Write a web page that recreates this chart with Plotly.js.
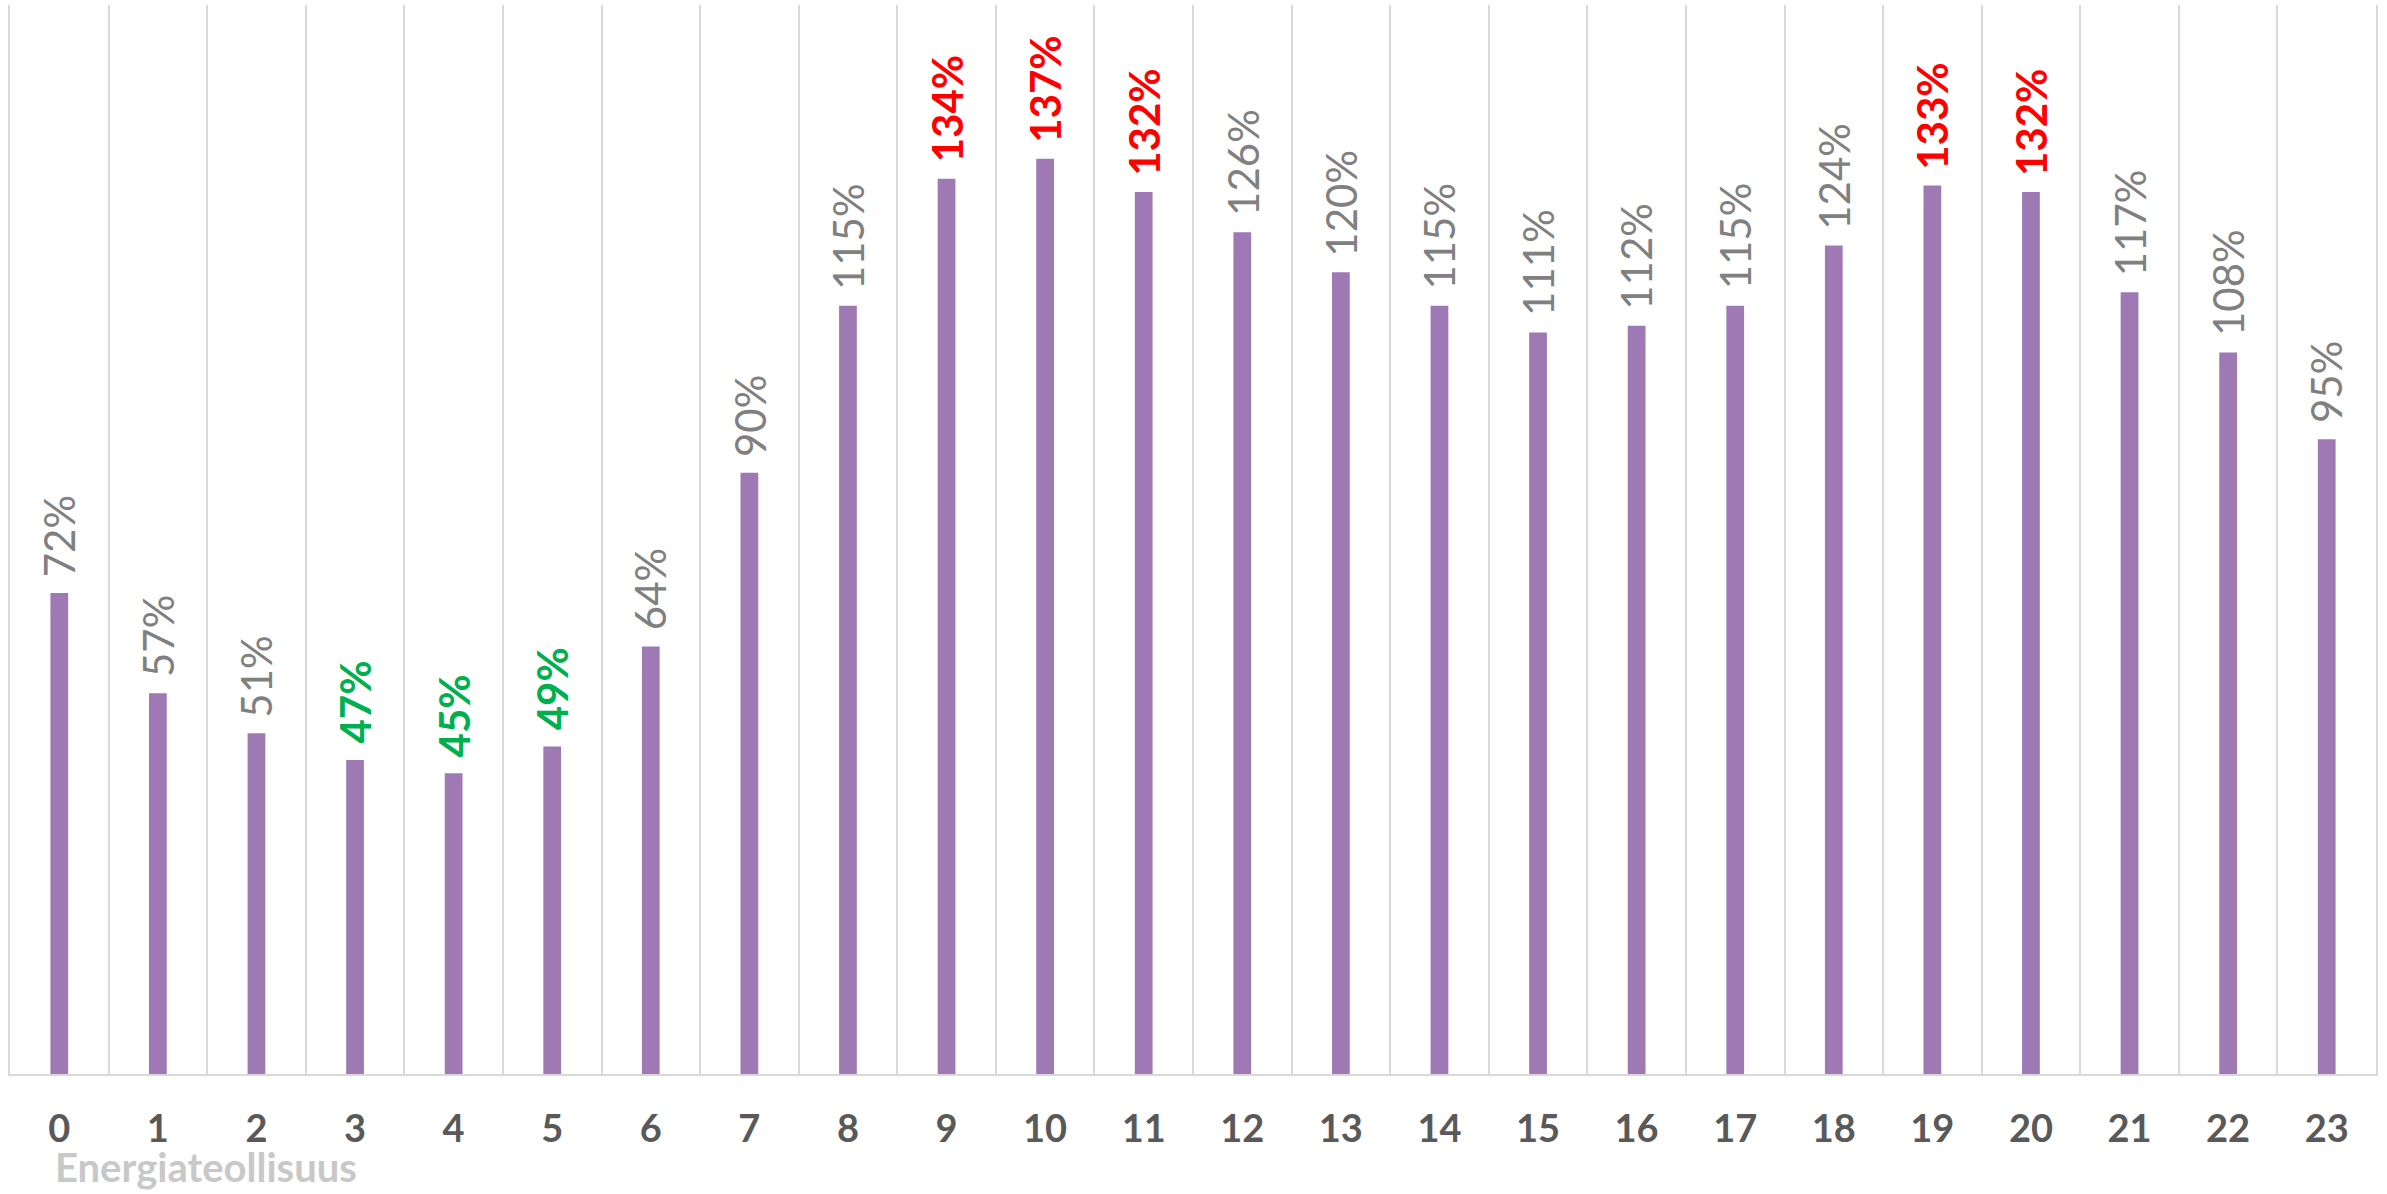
<!DOCTYPE html>
<html>
<head>
<meta charset="utf-8">
<script src="https://cdn.plot.ly/plotly-3.0.1.min.js"></script>
<style>html,body{margin:0;padding:0;background:#fff;}#chart{width:2387px;height:1194px;}</style>
</head>
<body>
<div id="chart"></div>
<script>
// Hours of the day
var hours = [0,1,2,3,4,5,6,7,8,9,10,11,12,13,14,15,16,17,18,19,20,21,22,23];
// Relative value (%) per hour
var values = [72,57,51,47,45,49,64,90,115,134,137,132,126,120,115,111,112,115,124,133,132,117,108,95];
var tickLabels = hours.map(String);
var watermark = "Energiateollisuus";

var HIGH = 130, LOW = 50;
var annotations = values.map(function (v, i) {
  var high = v >= HIGH, low = v < LOW;
  var color = high ? '#FF0000' : (low ? '#00B050' : '#808080');
  var txt = v + '%';
  if (high || low) txt = '<b>' + txt + '</b>';
  return {
    x: hours[i], y: v, xref: 'x', yref: 'y',
    text: txt, textangle: -90, showarrow: false,
    xanchor: 'center', yanchor: 'bottom', yshift: 14,
    font: {family: 'Lato, sans-serif', size: 42, color: color}
  };
});
annotations.push({
  text: '<b>' + watermark + '</b>', xref: 'paper', yref: 'paper',
  x: 0.018, y: -0.087, xanchor: 'left', yanchor: 'middle', showarrow: false,
  font: {family: 'Lato, sans-serif', size: 40, color: '#C8C8C8'}
});

var trace = {
  type: 'bar', x: hours, y: values, width: 0.18,
  marker: {color: '#9E79B4'}, hoverinfo: 'skip'
};

var layout = {
  width: 2387, height: 1194,
  margin: {l: 10, r: 11, t: 5, b: 120},
  paper_bgcolor: '#fff', plot_bgcolor: '#fff',
  showlegend: false,
  xaxis: {
    range: [-0.5, 23.5], tickvals: hours, ticktext: tickLabels,
    showgrid: false, zeroline: false,
    showline: true, linecolor: '#D9D9D9', linewidth: 2,
    ticks: '', ticklabelstandoff: 20,
    tickfont: {family: 'Lato, sans-serif', size: 38, color: '#595959', weight: 'bold'},
    minor: {tick0: 0.5, dtick: 1, showgrid: true, gridcolor: '#D9D9D9', gridwidth: 2, ticks: ''}
  },
  yaxis: {
    range: [0, 160], showticklabels: false, showgrid: false, zeroline: false,
    showline: true, mirror: true, linecolor: '#D9D9D9', linewidth: 2, ticks: ''
  },
  annotations: annotations
};

Plotly.newPlot('chart', [trace], layout, {displayModeBar: false, staticPlot: true});
</script>
</body>
</html>
